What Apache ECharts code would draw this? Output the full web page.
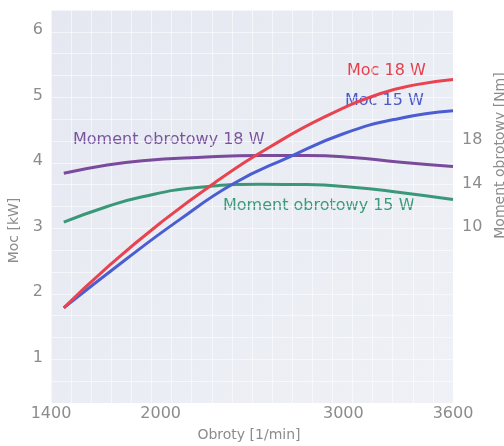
<!DOCTYPE html>
<html><head><meta charset="utf-8">
<script src="https://cdn.jsdelivr.net/npm/echarts@6/dist/echarts.min.js"></script>
<style>html,body{margin:0;padding:0;background:#fff}#c{width:504px;height:446px}</style>
</head><body><div id="c"></div>
<script>
// data (rpm, value)
const rpmMoc18 = [1470, 1700, 2000, 2300, 2600, 2900, 3200, 3400, 3600];
const moc18 = [1.76, 2.36, 3.06, 3.68, 4.22, 4.68, 5.03, 5.17, 5.25];
const rpmMoc15 = [1470, 1800, 2100, 2400, 2700, 3000, 3300, 3600];
const moc15 = [1.76, 2.48, 3.10, 3.66, 4.06, 4.42, 4.65, 4.77];
const rpmMoment = [1470, 1700, 1900, 2200, 2550, 2800, 3050, 3300, 3600];
const moment18 = [14.97, 15.70, 16.12, 16.42, 16.60, 16.60, 16.42, 16.00, 15.58];
const moment15 = [10.46, 11.85, 12.80, 13.65, 13.94, 13.92, 13.68, 13.22, 12.55];
const xTicks = [1400, 2000, 3000, 3600];
const mocTicks = [1, 2, 3, 4, 5, 6];
const momentTicks = [10, 14, 18];

const pair = (xs, ys) => xs.map((x, i) => [x, ys[i]]);
const FONT = 'DejaVu Sans';
const GREY = '#8c8c8c';
const chart = echarts.init(document.getElementById('c'), null, {renderer: 'canvas'});
chart.setOption({
  animation: false,
  backgroundColor: '#ffffff',
  grid: {
    left: 51, right: 51, top: 10, bottom: 43, show: true, borderWidth: 0,
    outerBoundsMode: 'none', containLabel: false,
    backgroundColor: new echarts.graphic.LinearGradient(0, 0, 1, 1, [
      {offset: 0, color: '#e5e8f1'}, {offset: 1, color: '#eff1f6'}
    ])
  },
  xAxis: [{
    type: 'value', min: 1400, max: 3600,
    axisLine: {show: false}, axisTick: {show: false}, splitLine: {show: false},
    axisLabel: {customValues: xTicks, formatter: v => String(v), margin: 3, color: GREY, fontSize: 16, fontFamily: FONT},
    name: 'Obroty [1/min]', nameLocation: 'middle', nameGap: 25,
    nameTextStyle: {color: GREY, fontSize: 14, fontFamily: FONT, padding: [0, 6, 0, 0]}
  }, {
    type: 'value', min: 0, max: 20, interval: 1, show: true,
    axisLine: {show: false}, axisTick: {show: false}, axisLabel: {show: false},
    splitLine: {show: true, lineStyle: {color: 'rgba(255,255,255,0.55)', width: 1}}
  }],
  yAxis: [{
    type: 'value', min: 0.306, max: 6.31,
    axisLine: {show: false}, axisTick: {show: false}, splitLine: {show: false},
    axisLabel: {customValues: mocTicks, margin: 8, color: GREY, fontSize: 16, fontFamily: FONT},
    name: 'Moc [kW]', nameLocation: 'middle', nameRotate: 90, nameGap: 30,
    nameTextStyle: {color: GREY, fontSize: 14, fontFamily: FONT, padding: [0, 48, 0, 0]}
  }, {
    type: 'value', min: -6.2, max: 30, position: 'right',
    axisLine: {show: false}, axisTick: {show: false}, splitLine: {show: false},
    axisLabel: {customValues: momentTicks, margin: 9, color: GREY, fontSize: 16, fontFamily: FONT},
    name: 'Moment obrotowy [Nm]', nameLocation: 'middle', nameRotate: 90, nameGap: 40,
    nameTextStyle: {color: GREY, fontSize: 14, fontFamily: FONT, padding: [0, 0, 0, 102]}
  }, {
    type: 'value', min: 0, max: 18, interval: 1, show: true,
    axisLine: {show: false}, axisTick: {show: false}, axisLabel: {show: false},
    splitLine: {show: true, lineStyle: {color: 'rgba(255,255,255,0.55)', width: 1}}
  }],
  series: [
    {name: 'Moment obrotowy 18 W', type: 'line', yAxisIndex: 1, smooth: true, showSymbol: false,
     lineStyle: {color: '#7a4a9c', width: 3}, data: pair(rpmMoment, moment18)},
    {name: 'Moment obrotowy 15 W', type: 'line', yAxisIndex: 1, smooth: true, showSymbol: false,
     lineStyle: {color: '#3a9878', width: 3}, data: pair(rpmMoment, moment15)},
    {name: 'Moc 15 W', type: 'line', yAxisIndex: 0, smooth: true, showSymbol: false,
     lineStyle: {color: '#4a5ed2', width: 3}, data: pair(rpmMoc15, moc15)},
    {name: 'Moc 18 W', type: 'line', yAxisIndex: 0, smooth: true, showSymbol: false,
     lineStyle: {color: '#e8434f', width: 3}, data: pair(rpmMoc18, moc18)}
  ],
  graphic: [
    {type: 'text', left: 347, top: 63, style: {text: 'Moc 18 W', fill: '#e5404d', font: '16px "DejaVu Sans"'}},
    {type: 'text', left: 345, top: 93, style: {text: 'Moc 15 W', fill: '#4a5ac8', font: '16px "DejaVu Sans"'}},
    {type: 'text', left: 73, top: 132, style: {text: 'Moment obrotowy 18 W', fill: '#7a559c', font: '16px "DejaVu Sans"'}},
    {type: 'text', left: 223, top: 198, style: {text: 'Moment obrotowy 15 W', fill: '#3a9a7a', font: '16px "DejaVu Sans"'}}
  ]
});
</script></body></html>
